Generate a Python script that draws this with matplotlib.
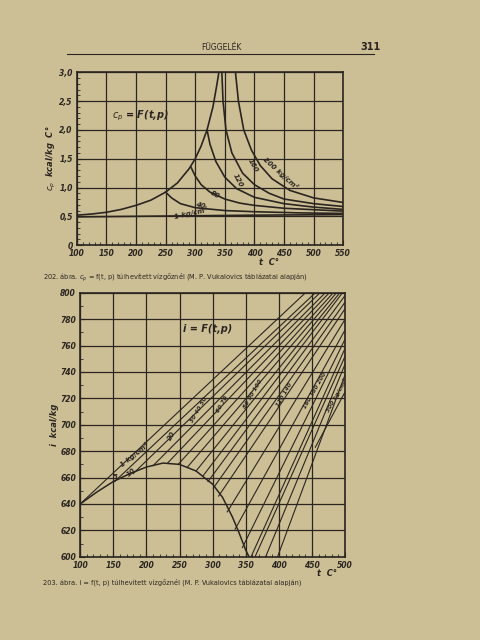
import matplotlib
matplotlib.use("Agg")
import matplotlib.pyplot as plt
from matplotlib.ticker import MultipleLocator

# ---- top chart: cp = f(t, p) ----
sat_t = [100, 125, 150, 175, 200, 225, 250, 270, 290, 300, 310, 320, 330, 336, 340]
sat_cp = [0.52, 0.54, 0.57, 0.62, 0.69, 0.78, 0.92, 1.08, 1.33, 1.5, 1.72, 2.0, 2.4, 2.75, 3.0]
iso_labels_top = ["1 kg/cm²", "40", "80", "120", "160", "200 kg/cm²"]
iso_t_top = [
    [100, 200, 300, 400, 550],
    [250, 260, 275, 300, 350, 400, 475, 550],
    [293, 300, 310, 325, 350, 375, 400, 450, 550],
    [320, 325, 335, 350, 370, 400, 450, 500, 550],
    [345, 347, 352, 362, 380, 400, 425, 450, 500, 550],
    [368, 373, 382, 395, 410, 430, 460, 500, 550],
]
iso_cp_top = [
    [0.49, 0.50, 0.51, 0.52, 0.53],
    [0.92, 0.82, 0.72, 0.65, 0.60, 0.58, 0.56, 0.55],
    [1.35, 1.2, 1.05, 0.92, 0.80, 0.73, 0.69, 0.64, 0.59],
    [2.0, 1.75, 1.45, 1.18, 0.98, 0.83, 0.72, 0.66, 0.62],
    [3.0, 2.5, 2.0, 1.6, 1.25, 1.05, 0.90, 0.80, 0.72, 0.67],
    [3.0, 2.5, 2.0, 1.65, 1.38, 1.15, 0.95, 0.82, 0.74],
]
lab_pos_top = [(292, 0.55), (308, 0.69), (333, 0.87), (372, 1.12), (398, 1.38), (445, 1.25)]
lab_rot_top = [12, -15, -30, -62, -62, -42]

# ---- bottom chart: i = f(t, p) ----
sat2_t = [100, 125, 150, 175, 200, 225, 250, 275, 300, 315, 330, 340, 350, 355]
sat2_i = [640, 649, 657, 663, 668, 671, 670, 665, 655, 645, 630, 618, 605, 600]
iso_p = [1, 5, 10, 20, 30, 40, 50, 60, 70, 80, 90, 100, 120, 140, 160, 180, 200, 220, 250, 300]
iso_t0 = [100, 152, 180, 210, 232, 248, 262, 275, 285, 293, 301, 309, 322, 334, 345, 358, 364, 380, 398, 455]
iso_i0 = [640, 657, 663, 669, 671, 670, 668, 665, 661, 657, 652, 646, 634, 621, 607, 600, 600, 600, 600, 683]
iso_t1 = [440, 455, 462, 470, 476, 482, 487, 492, 496, 500, 500, 500, 500, 500, 500, 500, 500, 500, 500, 500]
iso_i1 = [800, 800, 800, 800, 800, 800, 800, 800, 800, 798, 793, 788, 780, 772, 765, 758, 752, 746, 738, 725]

paper = "#cdbf95"
fig = plt.figure(figsize=(4.8, 6.4), dpi=100, facecolor=paper)
ink = "#2a2520"
fontkw = dict(style="italic", weight="bold", color=ink)

fig.text(0.42, 0.922, "FÜGGELÉK", fontsize=5.5, color=ink)
fig.text(0.75, 0.922, "311", fontsize=7, weight="bold", color=ink)
fig.add_artist(plt.Line2D([0.14, 0.78], [0.915, 0.915], color=ink, lw=0.8))

ax = fig.add_axes([0.16, 0.617, 0.555, 0.27])
ax.set_facecolor(paper)
ax.plot(sat_t, sat_cp, color=ink, lw=1.2)
for ts, cs, lab, pos, r in zip(iso_t_top, iso_cp_top, iso_labels_top, lab_pos_top, lab_rot_top):
    ax.plot(ts, cs, color=ink, lw=1.2)
    ax.text(pos[0], pos[1], lab, fontsize=5, rotation=r, ha="center", va="center", **fontkw)
ax.text(160, 2.2, "$c_p$ = F(t,p)", fontsize=7, **fontkw)
ax.set_xlim(100, 550)
ax.set_ylim(0, 3.0)
ax.xaxis.set_major_locator(MultipleLocator(50))
ax.xaxis.set_minor_locator(MultipleLocator(10))
ax.set_yticks([0, 0.5, 1.0, 1.5, 2.0, 2.5, 3.0])
ax.yaxis.set_minor_locator(MultipleLocator(0.1))
ax.set_yticklabels(["0", "0,5", "1,0", "1,5", "2,0", "2,5", "3,0"], fontsize=5.5, **fontkw)
for l in ax.get_xticklabels():
    l.set_fontsize(5.5); l.set_style("italic"); l.set_weight("bold")
ax.grid(True, which="major", color=ink, lw=0.9)
ax.tick_params(which="both", direction="in", color=ink, labelcolor=ink, pad=3)
ax.set_ylabel("$c_p$  kcal/kg  C°", fontsize=6, **fontkw, labelpad=1)
ax.set_xlabel("t  C°", fontsize=6, **fontkw, labelpad=0)
ax.xaxis.set_label_coords(0.72, -0.075)
for s in ax.spines.values():
    s.set_color(ink); s.set_lw(1.2)
fig.text(0.09, 0.563, "202. ábra. $c_p$ = f(t, p) túlhevített vízgőznél (M. P. Vukalovics táblázatai alapján)",
         fontsize=4.8, color=ink)

ax2 = fig.add_axes([0.167, 0.13, 0.552, 0.4125])
ax2.set_facecolor(paper)
ax2.plot(sat2_t, sat2_i, color=ink, lw=1.1)
for t0, i0, t1, i1 in zip(iso_t0, iso_i0, iso_t1, iso_i1):
    ax2.plot([t0, t1], [i0, i1], color=ink, lw=0.8)
ax2.text(255, 770, "i = F(t,p)", fontsize=7, **fontkw)
ax2.text(158, 668, "1 kg/cm²", fontsize=5, rotation=38, **fontkw)
ax2.text(150, 659, "5", fontsize=5, **fontkw)
ax2.text(168, 661, "10", fontsize=5, rotation=40, **fontkw)
ax2.text(230, 688, "20", fontsize=5, rotation=60, **fontkw)
for x, y, s in [(265, 702, "30 40 50"), (305, 709, "60 70"), (345, 712, "80 90 100"),
                (395, 714, "120 140"), (435, 712, "160 180 200"), (470, 710, "300 kg/cm²")]:
    ax2.text(x, y, s, fontsize=4.2, rotation=60, **fontkw)
ax2.set_xlim(100, 500)
ax2.set_ylim(600, 800)
ax2.xaxis.set_major_locator(MultipleLocator(50))
ax2.xaxis.set_minor_locator(MultipleLocator(10))
ax2.yaxis.set_major_locator(MultipleLocator(20))
ax2.yaxis.set_minor_locator(MultipleLocator(10))
for l in ax2.get_xticklabels() + ax2.get_yticklabels():
    l.set_fontsize(5.5); l.set_style("italic"); l.set_weight("bold")
ax2.grid(True, which="major", color=ink, lw=0.9)
ax2.tick_params(which="both", direction="in", color=ink, labelcolor=ink, pad=3)
ax2.set_ylabel("i  kcal/kg", fontsize=6, **fontkw, labelpad=1)
ax2.set_xlabel("t  C°", fontsize=6, **fontkw, labelpad=0)
ax2.xaxis.set_label_coords(0.93, -0.045)
for s in ax2.spines.values():
    s.set_color(ink); s.set_lw(1.2)
fig.text(0.09, 0.087, "203. ábra. i = f(t, p) túlhevített vízgőznél (M. P. Vukalovics táblázatai alapján)",
         fontsize=4.8, color=ink)

fig.savefig("out.png", dpi=100, facecolor=paper)
